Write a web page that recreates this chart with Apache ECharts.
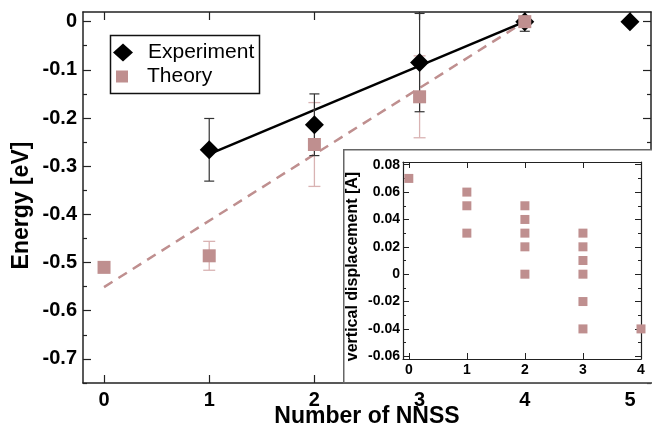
<!DOCTYPE html>
<html>
<head>
<meta charset="utf-8">
<script src="https://cdn.jsdelivr.net/npm/echarts@6/dist/echarts.min.js"></script>
<style>
html,body{margin:0;padding:0;background:#fff;}
#chart{width:652px;height:429px;}
</style>
</head>
<body>
<div id="chart"></div>
<script>
// ---- Main panel data ----
const nnssTicks = [0, 1, 2, 3, 4, 5];
const energyTicks = [0, -0.1, -0.2, -0.3, -0.4, -0.5, -0.6, -0.7];
const energyMinorTicks = [-0.05, -0.15, -0.25, -0.35, -0.45, -0.55, -0.65, -0.75];

const expX = [1, 2, 3, 4, 5];
const expY = [-0.266, -0.214, -0.085, 0.0, 0.0];
const expErr = [0.065, 0.064, 0.102, 0.02, 0];

const theoryX = [0, 1, 2, 3, 4];
const theoryY = [-0.510, -0.486, -0.255, -0.156, 0.0];
const theoryErr = [0, 0.030, 0.087, 0.085, 0.01];

const expFitX = [1, 4];
const expFitY = [-0.275, 0.0];
const theoryFitX = [0, 4];
const theoryFitY = [-0.551, 0.0];

// ---- Inset data ----
const insetXTicks = [0, 1, 2, 3, 4];
const insetYTicks = [0.08, 0.06, 0.04, 0.02, 0, -0.02, -0.04, -0.06];
const insetYMinorTicks = [0.07, 0.05, 0.03, 0.01, -0.01, -0.03, -0.05];
const insetX = [0, 1, 1, 1, 2, 2, 2, 2, 2, 3, 3, 3, 3, 3, 3, 4];
const insetY = [0.07, 0.06, 0.05, 0.03, 0.05, 0.04, 0.03, 0.02, 0.0, 0.03, 0.02, 0.01, 0.0, -0.02, -0.04, -0.04];

const PINK = '#bf8f8f';
const PINK_ERR = '#d9b3b3';
const FONT = '"Liberation Sans", Arial, sans-serif';

const zip = (xs, ys) => xs.map((x, i) => [x, ys[i]]);
const errData = (xs, ys, es) => xs.map((x, i) => [x, ys[i] - es[i], ys[i] + es[i]]).filter((d, i) => es[i] > 0);

function errRender(capW, color, lw) {
  return function (params, api) {
    const x = api.value(0), lo = api.value(1), hi = api.value(2);
    const p1 = api.coord([x, hi]);
    const p2 = api.coord([x, lo]);
    const style = { stroke: color, lineWidth: lw, fill: null };
    return {
      type: 'group',
      children: [
        { type: 'line', shape: { x1: p1[0], y1: p1[1], x2: p2[0], y2: p2[1] }, style },
        { type: 'line', shape: { x1: p1[0] - capW, y1: p1[1], x2: p1[0] + capW, y2: p1[1] }, style },
        { type: 'line', shape: { x1: p2[0] - capW, y1: p2[1], x2: p2[0] + capW, y2: p2[1] }, style }
      ]
    };
  };
}

const axisLineStyle = { color: '#222', width: 1.5 };
const fmt1 = v => (Math.abs(v) < 1e-9 ? '0' : v.toFixed(1));
const fmt2 = v => (Math.abs(v) < 1e-9 ? '0' : v.toFixed(2));

function xAx(opts) {
  return Object.assign({
    type: 'value', splitLine: { show: false }, nameMoveOverlap: false,
    axisLine: { show: true, onZero: false, lineStyle: axisLineStyle },
  }, opts);
}

const chart = echarts.init(document.getElementById('chart'), null, { renderer: 'canvas' });

const option = {
  animation: false,
  backgroundColor: '#fff',
  textStyle: { fontFamily: FONT },
  grid: [
    { left: 83, top: 12, width: 568, height: 371, outerBoundsMode: 'none', containLabel: false },
    { left: 403, top: 162, width: 238, height: 197, z: 60, outerBoundsMode: 'none', containLabel: false }
  ],
  xAxis: [
    xAx({ gridIndex: 0, position: 'bottom', min: -0.2, max: 5.2,
      axisTick: { show: true, inside: true, length: 8, customValues: nnssTicks, lineStyle: { color: '#222', width: 1.2 } },
      axisLabel: { show: true, customValues: nnssTicks, margin: 7, fontSize: 20, fontWeight: 'bold', color: '#000', fontFamily: FONT, formatter: v => String(Math.round(v)) },
      name: 'Number of NNSS', nameLocation: 'middle', nameGap: 22,
      nameTextStyle: { fontSize: 23, fontWeight: 'bold', color: '#000', fontFamily: FONT } }),
    xAx({ gridIndex: 0, position: 'top', min: -0.2, max: 5.2,
      axisTick: { show: true, inside: true, length: 8, customValues: nnssTicks, lineStyle: { color: '#222', width: 1.2 } },
      axisLabel: { show: false } }),
    xAx({ gridIndex: 1, position: 'bottom', min: -0.1, max: 4, z: 60,
      axisLine: { show: true, onZero: false, lineStyle: { color: '#222', width: 1.2 } },
      axisTick: { show: true, inside: true, length: 6, customValues: insetXTicks, lineStyle: { color: '#222', width: 1 } },
      axisLabel: { show: true, customValues: insetXTicks, margin: 4, fontSize: 14, fontWeight: 'bold', color: '#000', fontFamily: FONT, formatter: v => String(Math.round(v)) } }),
    xAx({ gridIndex: 1, position: 'top', min: -0.1, max: 4, z: 60,
      axisLine: { show: true, onZero: false, lineStyle: { color: '#222', width: 1.2 } },
      axisTick: { show: true, inside: true, length: 6, customValues: insetXTicks, lineStyle: { color: '#222', width: 1 } },
      axisLabel: { show: false } })
  ],
  yAxis: [
    xAx({ gridIndex: 0, position: 'left', min: -0.75, max: 0.02,
      axisTick: { show: true, inside: true, length: 8, customValues: energyTicks, lineStyle: { color: '#222', width: 1.2 } },
      axisLabel: { show: true, customValues: energyTicks, margin: 6, fontSize: 20, fontWeight: 'bold', color: '#000', fontFamily: FONT, formatter: fmt1 },
      name: 'Energy [eV]', nameLocation: 'middle', nameGap: 50,
      nameTextStyle: { fontSize: 23, fontWeight: 'bold', color: '#000', fontFamily: FONT, padding: [0, 16, 0, 0] } }),
    xAx({ gridIndex: 0, position: 'left', min: -0.75, max: 0.02,
      axisLine: { show: false, onZero: false },
      axisTick: { show: true, inside: true, length: 4, customValues: energyMinorTicks, lineStyle: { color: '#222', width: 1.2 } },
      axisLabel: { show: false } }),
    xAx({ gridIndex: 0, position: 'right', min: -0.75, max: 0.02,
      axisTick: { show: true, inside: true, length: 8, customValues: energyTicks, lineStyle: { color: '#222', width: 1.2 } },
      axisLabel: { show: false } }),
    xAx({ gridIndex: 0, position: 'right', min: -0.75, max: 0.02,
      axisLine: { show: false, onZero: false },
      axisTick: { show: true, inside: true, length: 4, customValues: energyMinorTicks, lineStyle: { color: '#222', width: 1.2 } },
      axisLabel: { show: false } }),
    xAx({ gridIndex: 1, position: 'left', min: -0.062, max: 0.082, z: 60,
      axisLine: { show: true, onZero: false, lineStyle: { color: '#222', width: 1.2 } },
      axisTick: { show: true, inside: true, length: 6, customValues: insetYTicks, lineStyle: { color: '#222', width: 1 } },
      axisLabel: { show: true, customValues: insetYTicks, margin: 3, fontSize: 14, fontWeight: 'bold', color: '#000', fontFamily: FONT, formatter: fmt2 },
      name: 'vertical displacement [A]', nameLocation: 'middle', nameGap: 42,
      nameTextStyle: { fontSize: 16, fontWeight: 'bold', color: '#000', fontFamily: FONT, padding: [0, 12, 0, 0] } }),
    xAx({ gridIndex: 1, position: 'left', min: -0.062, max: 0.082, z: 60,
      axisLine: { show: false, onZero: false },
      axisTick: { show: true, inside: true, length: 3, customValues: insetYMinorTicks, lineStyle: { color: '#222', width: 1 } },
      axisLabel: { show: false } }),
    xAx({ gridIndex: 1, position: 'right', min: -0.062, max: 0.082, z: 60,
      axisLine: { show: true, onZero: false, lineStyle: { color: '#222', width: 1.2 } },
      axisTick: { show: true, inside: true, length: 6, customValues: insetYTicks, lineStyle: { color: '#222', width: 1 } },
      axisLabel: { show: false } }),
    xAx({ gridIndex: 1, position: 'right', min: -0.062, max: 0.082, z: 60,
      axisLine: { show: false, onZero: false },
      axisTick: { show: true, inside: true, length: 3, customValues: insetYMinorTicks, lineStyle: { color: '#222', width: 1 } },
      axisLabel: { show: false } })
  ],
  legend: [
    { data: [{ name: 'Experiment', icon: 'diamond' }], left: 113, top: 42, padding: 0,
      itemWidth: 20, itemHeight: 18, selectedMode: false,
      textStyle: { fontSize: 21, color: '#000', fontFamily: FONT, padding: [0, 0, 0, 10] } },
    { data: [{ name: 'Theory', icon: 'rect' }], left: 116, top: 66, padding: 0,
      itemWidth: 12, itemHeight: 12, selectedMode: false,
      textStyle: { fontSize: 21, color: '#000', fontFamily: FONT, padding: [0, 0, 0, 14] } }
  ],
  graphic: [
    { type: 'rect', left: 108, top: 33, z: 40, shape: { width: 149, height: 58 },
      style: { fill: null, stroke: '#111', lineWidth: 1.5 } },
    { type: 'rect', left: 343, top: 149, z: 50, shape: { width: 312, height: 233 },
      style: { fill: '#fff', stroke: '#666', lineWidth: 1.5 } }
  ],
  series: [
    { type: 'line', name: 'theoryFit', xAxisIndex: 0, yAxisIndex: 0, data: zip(theoryFitX, theoryFitY),
      symbol: 'none', lineStyle: { color: PINK, width: 2.5, type: [10, 7] }, z: 2, silent: true },
    { type: 'line', name: 'expFit', xAxisIndex: 0, yAxisIndex: 0, data: zip(expFitX, expFitY),
      symbol: 'none', lineStyle: { color: '#000', width: 2.5 }, z: 2, silent: true },
    { type: 'custom', name: 'theoryErr', xAxisIndex: 0, yAxisIndex: 0, data: errData(theoryX, theoryY, theoryErr),
      renderItem: errRender(6, PINK_ERR, 1.3), encode: { x: 0, y: [1, 2] }, z: 3, clip: false },
    { type: 'custom', name: 'expErr', xAxisIndex: 0, yAxisIndex: 0, data: errData(expX, expY, expErr),
      renderItem: errRender(5, '#333', 1.2), encode: { x: 0, y: [1, 2] }, z: 3, clip: false },
    { type: 'scatter', name: 'Experiment', xAxisIndex: 0, yAxisIndex: 0, data: zip(expX, expY),
      symbol: 'diamond', symbolSize: [19, 19], itemStyle: { color: '#000', opacity: 1 }, z: 4 },
    { type: 'scatter', name: 'Theory', xAxisIndex: 0, yAxisIndex: 0, data: zip(theoryX, theoryY),
      symbol: 'rect', symbolSize: 13, itemStyle: { color: PINK, opacity: 1 }, z: 5 },
    { type: 'scatter', name: 'inset', xAxisIndex: 2, yAxisIndex: 4, data: zip(insetX, insetY),
      symbol: 'rect', symbolSize: 9, itemStyle: { color: PINK, opacity: 1 }, z: 61, clip: true }
  ]
};
chart.setOption(option);
</script>
</body>
</html>
